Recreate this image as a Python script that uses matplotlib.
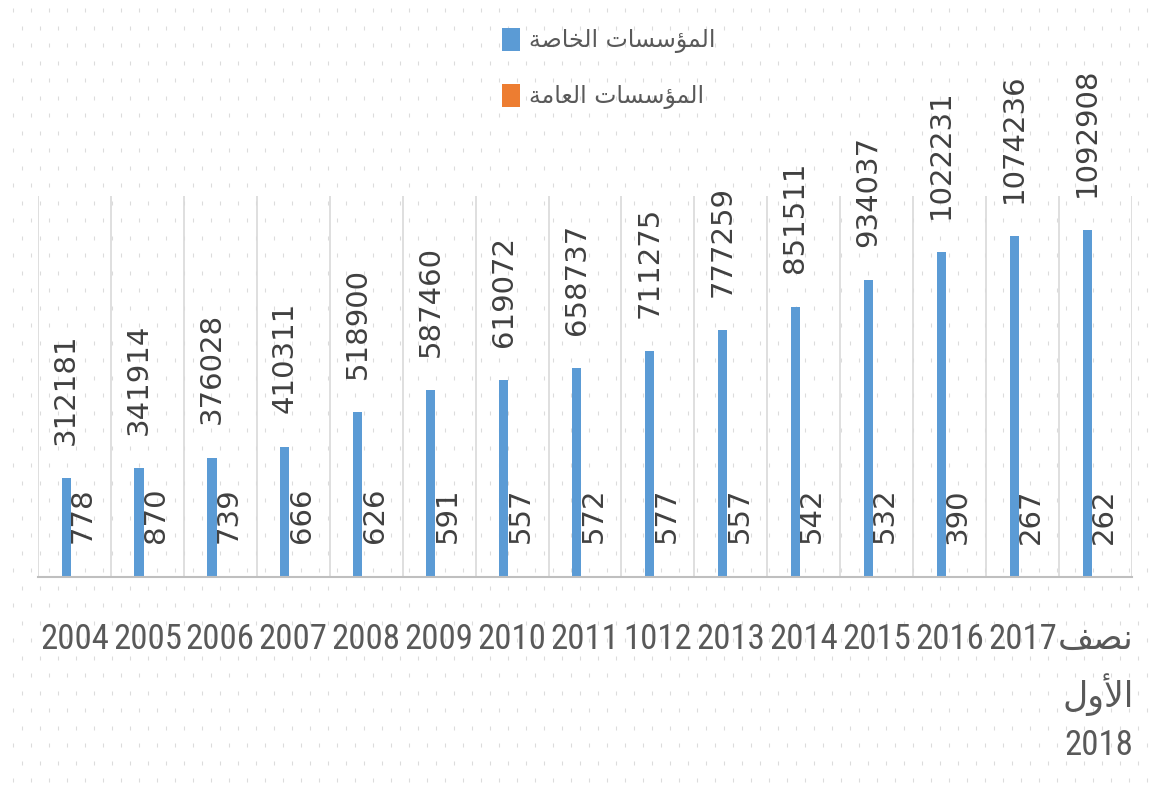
import numpy as np
import matplotlib
matplotlib.use("Agg")
import matplotlib.pyplot as plt
from matplotlib import font_manager

# Data
years = ["2004", "2005", "2006", "2007", "2008", "2009", "2010", "2011", "1012",
         "2013", "2014", "2015", "2016", "2017", "نصف\nالأول\n2018"]
private = [312181, 341914, 376028, 410311, 518900, 587460, 619072, 658737, 711275,
           777259, 851511, 934037, 1022231, 1074236, 1092908]
public = [778, 870, 739, 666, 626, 591, 557, 572, 577, 557, 542, 532, 390, 267, 262]
series_names = ["المؤسسات الخاصة", "المؤسسات العامة"]
colors = ["#5B9BD5", "#ED7D31"]

# Arabic shaping (no bidi lib available): presentation forms, then reverse for LTR drawing
FORMS = {
    'ا': (0xFE8D, 0xFE8E, None, None),
    'أ': (0xFE83, 0xFE84, None, None),
    'ؤ': (0xFE85, 0xFE86, None, None),
    'و': (0xFEED, 0xFEEE, None, None),
    'ة': (0xFE93, 0xFE94, None, None),
    'ت': (0xFE95, 0xFE96, 0xFE97, 0xFE98),
    'خ': (0xFEA5, 0xFEA6, 0xFEA7, 0xFEA8),
    'س': (0xFEB1, 0xFEB2, 0xFEB3, 0xFEB4),
    'ص': (0xFEB9, 0xFEBA, 0xFEBB, 0xFEBC),
    'ع': (0xFEC9, 0xFECA, 0xFECB, 0xFECC),
    'ف': (0xFED1, 0xFED2, 0xFED3, 0xFED4),
    'ل': (0xFEDD, 0xFEDE, 0xFEDF, 0xFEE0),
    'م': (0xFEE1, 0xFEE2, 0xFEE3, 0xFEE4),
    'ن': (0xFEE5, 0xFEE6, 0xFEE7, 0xFEE8),
}
LAM_ALEF = {'ا': (0xFEFB, 0xFEFC), 'أ': (0xFEF7, 0xFEF8)}


def joins_fwd(c):
    return c in FORMS and FORMS[c][2] is not None


def shape_line(line):
    if not any(c in FORMS for c in line):
        return line
    out, i, n = [], 0, len(line)
    while i < n:
        c = line[i]
        if c not in FORMS:
            out.append(c)
            i += 1
            continue
        prev_j = i > 0 and joins_fwd(line[i - 1])
        if c == 'ل' and i + 1 < n and line[i + 1] in LAM_ALEF:
            iso, fin = LAM_ALEF[line[i + 1]]
            out.append(chr(fin if prev_j else iso))
            i += 2
            continue
        next_j = joins_fwd(c) and i + 1 < n and line[i + 1] in FORMS
        iso, fin, ini, med = FORMS[c]
        g = med if (prev_j and next_j) else fin if prev_j else ini if next_j else iso
        out.append(chr(g))
        i += 1
    return ''.join(reversed(out))


def ar(text):
    return '\n'.join(shape_line(l) for l in text.split('\n'))


names = {f.name for f in font_manager.fontManager.ttflist}
narrow = next((n for n in ["Liberation Sans Narrow", "Roboto Condensed", "DejaVu Sans Condensed"]
               if n in names), "DejaVu Sans")
plt.rcParams['font.family'] = ['DejaVu Sans']

W, H = 1156, 794
fig = plt.figure(figsize=(W / 100, H / 100), dpi=100)

# dotted background
bg = fig.add_axes([0, 0, 1, 1], zorder=-1)
bg.set_xlim(0, W)
bg.set_ylim(H, 0)
bg.axis('off')
for r, y in enumerate(np.arange(10, H, 17.5)):
    xs = np.arange(13 + 9 * (r % 2), W, 18)
    bg.plot(xs, np.full_like(xs, y, dtype=float), ls='none', marker='|',
            ms=3.5, mew=0.8, color='#dcdcdc')

ax = fig.add_axes([38 / W, 1 - 577 / H, 1094 / W, 381 / H])
ax.set_facecolor('none')

x = np.arange(len(years))
bw = 0.125
b1 = ax.bar(x - 0.115, private, bw, color=colors[0], label=ar(series_names[0]))
b2 = ax.bar(x + 0.115, public, bw, color=colors[1], label=ar(series_names[1]))
for bars in (b1, b2):
    ax.bar_label(bars, fmt='%d', padding=24, rotation=90, fontsize=21, color='#404040')

ax.set_xlim(-0.5, len(years) - 0.5)
ax.set_ylim(0, 1200000)
for b in np.arange(-0.5, len(years), 1):
    ax.axvline(b, color='#d9d9d9', lw=1.2, zorder=0)

for s in ['top', 'left', 'right']:
    ax.spines[s].set_visible(False)
ax.spines['bottom'].set_color('#bfbfbf')
ax.spines['bottom'].set_linewidth(1.5)
ax.set_yticks([])
ax.set_xticks(x)
ax.set_xticklabels([ar(y) for y in years], family=[narrow, 'DejaVu Sans'],
                   fontsize=25, color='#595959', linespacing=1.5)
ax.get_xticklabels()[-1].set_multialignment('right')
ax.tick_params(axis='x', length=0, pad=33)

ax.legend(loc='upper left', bbox_to_anchor=(502 / W, 1 - 28 / H),
          bbox_transform=fig.transFigure, frameon=False, fontsize=17,
          handlelength=0.75, handleheight=1.1, handletextpad=0.4,
          labelspacing=1.3, borderpad=0, borderaxespad=0, labelcolor='#595959')

fig.savefig("out.png", dpi=100)
